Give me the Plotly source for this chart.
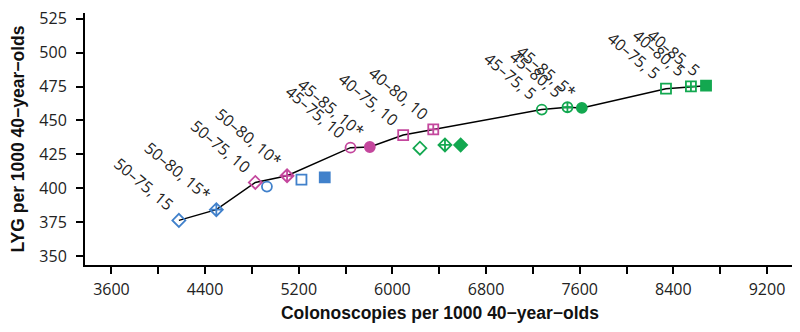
import plotly.graph_objects as go

# ---- data ----
# 15-year interval strategies (blue)
blue_names = ["50–75, 15", "50–80, 15", "45–75, 15", "40–75, 15", "40–85, 15"]
blue_x = [4176, 4496, 4928, 5223, 5422]
blue_y = [376.3, 384.2, 401.2, 406.3, 408.0]
blue_sym = ["diamond-open", "diamond-cross-open", "circle-open", "square-open", "square"]

# 10-year interval strategies (pink)
pink_names = ["50–75, 10", "50–80, 10", "45–75, 10", "45–85, 10", "40–75, 10", "40–80, 10"]
pink_x = [4829, 5100, 5642, 5807, 6092, 6349]
pink_y = [404.3, 409.2, 429.9, 430.4, 439.2, 443.4]
pink_sym = ["diamond-open", "diamond-cross-open", "circle-open", "circle", "square-open", "square-cross-open"]

# 5-year interval strategies (green)
green_names = ["50–75, 5", "50–80, 5", "50–85, 5", "45–75, 5", "45–80, 5", "45–85, 5",
               "40–75, 5", "40–80, 5", "40–85, 5"]
green_x = [6235, 6449, 6583, 7276, 7495, 7618, 8337, 8550, 8679]
green_y = [429.5, 431.9, 431.9, 458.0, 459.7, 459.2, 473.4, 475.1, 475.6]
green_sym = ["diamond-open", "diamond-cross-open", "diamond", "circle-open", "circle-cross-open",
             "circle", "square-open", "square-cross-open", "square"]

# efficient frontier (labelled strategies)
front_labels = ["50–75, 15", "50–80, 15*", "50–75, 10", "50–80, 10*", "45–75, 10", "45–85, 10*",
                "40–75, 10", "40–80, 10", "45–75, 5", "45–80, 5", "45–85, 5*",
                "40–75, 5", "40–80, 5", "40–85, 5"]
front_x = [4176, 4496, 4829, 5100, 5642, 5807, 6092, 6349, 7276, 7495, 7618, 8337, 8550, 8679]
front_y = [376.3, 384.2, 404.3, 409.2, 429.9, 430.4, 439.2, 443.4, 458.0, 459.7, 459.2, 473.4, 475.1, 475.6]

x_tickvals = [3600, 4000, 4400, 4800, 5200, 5600, 6000, 6400, 6800, 7200, 7600, 8000, 8400, 8800, 9200]
x_ticktext = ["3600", "", "4400", "", "5200", "", "6000", "", "6800", "", "7600", "", "8400", "", "9200"]
y_tickvals = [350, 375, 400, 425, 450, 475, 500, 525]

BLUE = "#4181CB"
PINK = "#C4479D"
GREEN = "#13A850"
TXT = "#222222"

fig = go.Figure()

fig.add_trace(go.Scatter(x=front_x, y=front_y, mode="lines",
                         line=dict(color="black", width=1.5), hoverinfo="skip", showlegend=False))

for xs, ys, syms, col, names in [(blue_x, blue_y, blue_sym, BLUE, blue_names),
                                  (pink_x, pink_y, pink_sym, PINK, pink_names),
                                  (green_x, green_y, green_sym, GREEN, green_names)]:
    fig.add_trace(go.Scatter(x=xs, y=ys, mode="markers", text=names, showlegend=False,
                             marker=dict(symbol=syms, size=10, color=col,
                                         line=dict(color=col, width=1.8))))

for lab, x, y in zip(front_labels, front_x, front_y):
    fig.add_annotation(x=x, y=y, text=lab, showarrow=False, textangle=40,
                       xanchor="right", yanchor="bottom", xshift=2, yshift=2,
                       font=dict(family="Open Sans", size=16, color=TXT))

# The page body has an 8px default margin, so the figure is sized 8px smaller
# in each direction to fill the 800x332 window.
fig.update_layout(
    width=792, height=324,
    margin=dict(l=77, r=5, t=5, b=67),
    paper_bgcolor="white", plot_bgcolor="white",
    font=dict(family="Open Sans", size=16, color=TXT),
)
fig.update_xaxes(range=[3374, 9439], tickvals=x_tickvals, ticktext=x_ticktext, automargin=False,
                 showline=True, linecolor="black", linewidth=2, ticks="outside",
                 ticklen=7, tickwidth=1.5, tickcolor="black", showgrid=False, zeroline=False,
                 ticklabelstandoff=2,
                 tickfont=dict(family="Open Sans", size=16, color=TXT),
                 title=dict(text="Colonoscopies per 1000 40−year−olds", standoff=8,
                            font=dict(family="Liberation Sans", size=17.5, color="#111111",
                                      weight="bold")))
fig.update_yaxes(range=[343.4, 529.2], tickvals=y_tickvals, automargin=False,
                 showline=True, linecolor="black", linewidth=2, ticks="outside",
                 ticklen=7, tickwidth=1.5, tickcolor="black", showgrid=False, zeroline=False,
                 ticklabelstandoff=6, ticklabeloverflow="allow",
                 tickfont=dict(family="Open Sans", size=16, color=TXT),
                 title=dict(text="LYG per 1000 40−year−olds", standoff=19,
                            font=dict(family="Liberation Sans", size=17.5, color="#111111",
                                      weight="bold")))

fig.write_html("out.html")
